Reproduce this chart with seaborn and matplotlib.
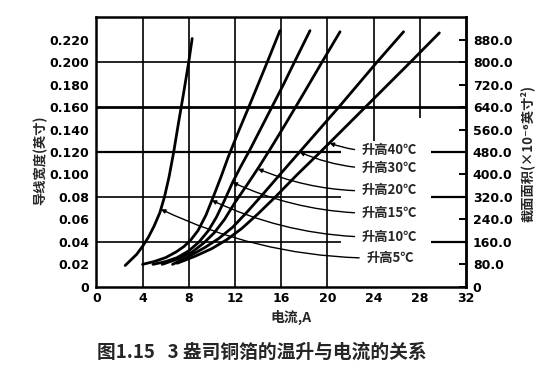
import matplotlib
matplotlib.use('Agg')
import matplotlib.pyplot as plt
import pandas as pd
import seaborn as sns

# values (current in A, conductor width in inches)
rise_names = ['升高5℃', '升高10℃', '升高15℃', '升高20℃', '升高30℃', '升高40℃']

cur_5 = [2.5, 3.0, 3.5, 4.0, 4.5, 5.0, 5.5, 5.9, 6.3, 6.7, 7.1, 7.55, 8.0, 8.3]
wid_5 = [0.019, 0.024, 0.029, 0.036, 0.044, 0.054, 0.066, 0.080, 0.098, 0.120,
         0.145, 0.172, 0.200, 0.221]

cur_10 = [4.0, 5.0, 6.0, 6.9, 7.6, 8.2, 8.8, 9.5, 10.2, 10.8, 11.4, 12.3, 13.2,
          14.0, 14.8, 15.9]
wid_10 = [0.020, 0.0225, 0.026, 0.031, 0.036, 0.042, 0.050, 0.064, 0.082, 0.098,
          0.115, 0.138, 0.160, 0.180, 0.200, 0.228]

cur_15 = [4.9, 6.0, 7.0, 8.0, 8.9, 9.7, 10.4, 11.1, 11.8, 12.5, 13.3, 14.2, 15.2,
          16.2, 17.2, 18.5]
wid_15 = [0.020, 0.0225, 0.026, 0.032, 0.040, 0.050, 0.062, 0.077, 0.093, 0.107,
          0.122, 0.140, 0.160, 0.180, 0.201, 0.228]

cur_20 = [5.7, 7.1, 8.3, 9.3, 10.2, 11.1, 12.0, 13.0, 14.1, 15.2, 16.5, 18.0,
          19.6, 21.1]
wid_20 = [0.020, 0.025, 0.031, 0.039, 0.048, 0.060, 0.075, 0.090, 0.107, 0.125,
          0.147, 0.173, 0.201, 0.227]

cur_30 = [6.6, 8.0, 9.4, 10.6, 11.8, 13.0, 14.3, 15.9, 17.6, 21.0, 24.3, 26.6]
wid_30 = [0.020, 0.027, 0.035, 0.043, 0.053, 0.066, 0.081, 0.100, 0.120, 0.160,
          0.200, 0.227]

cur_40 = [7.0, 8.5, 10.0, 11.3, 12.6, 14.0, 15.5, 17.4, 19.4, 23.3, 27.2, 29.7]
wid_40 = [0.021, 0.027, 0.034, 0.042, 0.052, 0.065, 0.080, 0.100, 0.120, 0.160,
          0.200, 0.226]

# label positions and where each leader line meets its curve
label_x = [23.4, 23.0, 23.0, 23.0, 23.0, 23.0]
label_y = [0.0257, 0.0444, 0.0657, 0.0861, 0.1056, 0.1216]
arrow_x = [5.6, 10.0, 11.8, 14.0, 17.6, 20.2]
arrow_y = [0.069, 0.077, 0.093, 0.105, 0.120, 0.128]

x_ticks = [0, 4, 8, 12, 16, 20, 24, 28, 32]
y_ticks = [0, 0.02, 0.04, 0.06, 0.08, 0.10, 0.12, 0.14, 0.16, 0.18, 0.20, 0.22]
y_tick_labels = ['0', '0.02', '0.04', '0.06', '0.08', '0.100', '0.120', '0.140',
                 '0.160', '0.180', '0.200', '0.220']
area_ticks = [0, 80, 160, 240, 320, 400, 480, 560, 640, 720, 800, 880]
area_tick_labels = ['0', '80.0', '160.0', '240.0', '320.0', '400.0', '480.0',
                    '560.0', '640.0', '720.0', '800.0', '880.0']

curves = [(cur_5, wid_5), (cur_10, wid_10), (cur_15, wid_15),
          (cur_20, wid_20), (cur_30, wid_30), (cur_40, wid_40)]
frames = []
for name, (c, w) in zip(rise_names, curves):
    frames.append(pd.DataFrame({'current': c, 'width': w, 'rise': name}))
df = pd.concat(frames, ignore_index=True)

sns.set_theme(style='white')
plt.rcParams['font.family'] = ['DejaVu Sans', 'Noto Sans CJK SC']
cjk = ['Noto Sans CJK SC', 'DejaVu Sans']

fig = plt.figure(figsize=(5.6, 3.73), dpi=100)
ax = fig.add_axes([0.172, 0.231, 0.660, 0.723])

# grid as printed: some lines broken where the labels sit
for gx in [4, 8, 12, 16, 20]:
    ax.axvline(gx, color='black', lw=1.2, zorder=1)
ax.vlines(24, 0.13, 0.24, color='black', lw=1.2, zorder=1)
ax.vlines(28, 0.15, 0.24, color='black', lw=1.2, zorder=1)
ax.axhline(0.20, color='black', lw=1.2, zorder=1)
ax.axhline(0.16, color='black', lw=2.0, zorder=1)
for gy in [0.04, 0.08, 0.12]:
    ax.hlines(gy, 0, 21.2, color='black', lw=1.6 if gy == 0.12 else 1.2, zorder=1)
    ax.hlines(gy, 29.0, 32, color='black', lw=1.6, zorder=1)

sns.lineplot(data=df, x='current', y='width', units='rise', estimator=None,
             sort=False, color='black', lw=2.0, legend=False, ax=ax, zorder=3)

for name, lx, ly, axx, ayy in zip(rise_names, label_x, label_y, arrow_x, arrow_y):
    ax.annotate(name, xy=(axx, ayy), xytext=(lx, ly), ha='left', va='center',
                fontsize=9.5, fontweight='bold', family=cjk,
                arrowprops=dict(arrowstyle='-|>', color='black', lw=1.0,
                                mutation_scale=6, shrinkA=3, shrinkB=0,
                                connectionstyle='arc3,rad=-0.12'))

ax.set_xlim(0, 32)
ax.set_ylim(0, 0.24)
ax.set_xticks(x_ticks)
ax.set_xticklabels([str(v) for v in x_ticks])
ax.set_xticks(list(range(2, 32, 4)), minor=True)
ax.set_yticks(y_ticks)
ax.set_yticklabels(y_tick_labels)
ax.tick_params(axis='both', which='both', direction='in', length=5, width=1.4,
               labelsize=9, colors='black')
ax.tick_params(axis='x', pad=4)
ax.tick_params(axis='y', pad=5)
for lab in ax.get_xticklabels() + ax.get_yticklabels():
    lab.set_fontweight('bold')
ax.set_xlabel('')
ax.set_ylabel('')
for sp in ax.spines.values():
    sp.set_linewidth(1.8)
    sp.set_color('black')

sec = ax.secondary_yaxis('right', functions=(lambda y: y * 4000, lambda a: a / 4000))
sec.set_yticks(area_ticks)
sec.set_yticklabels(area_tick_labels)
sec.tick_params(direction='in', length=5, width=1.4, labelsize=9, pad=5, colors='black')
for lab in sec.get_yticklabels():
    lab.set_fontweight('bold')
sec.spines['right'].set_linewidth(1.8)

fig.text(291 / 560, 1 - 317 / 373, '电流,A', ha='center', va='center',
         fontsize=10, fontweight='bold', family=cjk)
fig.text(40 / 560, 1 - 160 / 373, '导线宽度(英寸)', rotation=90, ha='center',
         va='center', fontsize=9.5, fontweight='bold', family=cjk)
fig.text(528 / 560, 1 - 153 / 373, '截面面积(×10⁻⁶英寸²)', rotation=90,
         ha='center', va='center', fontsize=9.5, fontweight='bold', family=cjk)
fig.text(262 / 560, 1 - 352 / 373, '图1.15   3 盎司铜箔的温升与电流的关系',
         ha='center', va='center', fontsize=13.5, fontweight='bold', family=cjk)

fig.savefig('out.png', dpi=100)
